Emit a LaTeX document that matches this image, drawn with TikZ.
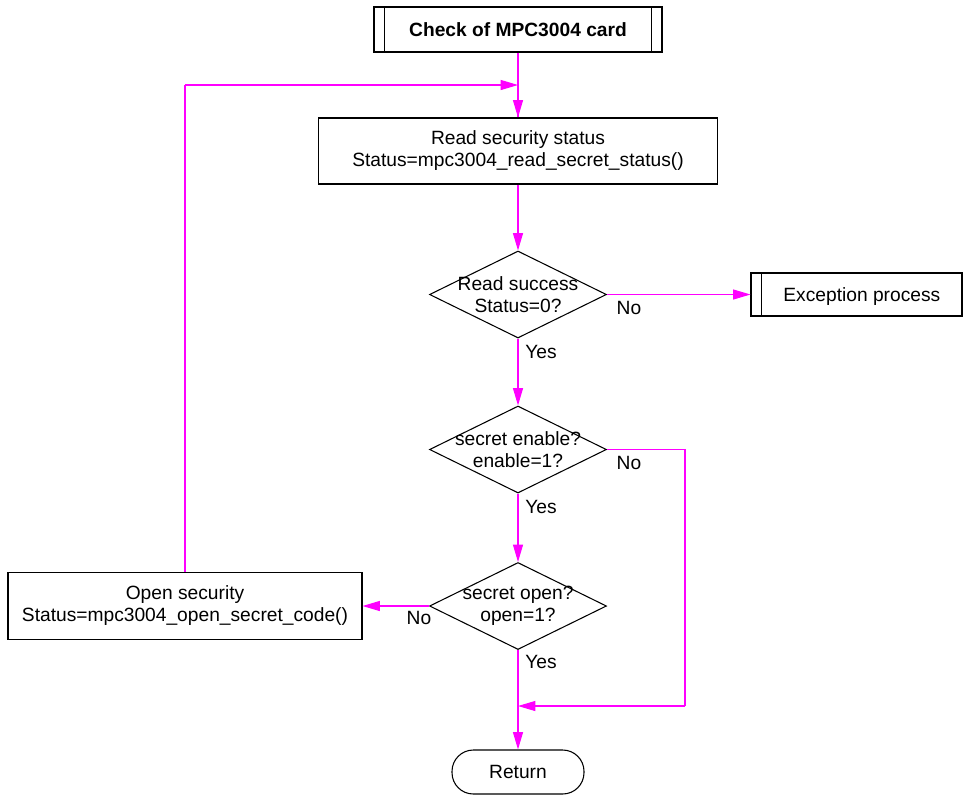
\documentclass[tikz,border=0pt]{standalone}
\usepackage{fontspec}
\setmainfont{Liberation Sans}
\usetikzlibrary{shapes.geometric,arrows.meta}
\definecolor{flow}{HTML}{FF00FF}
\begin{document}
\begin{tikzpicture}[x=0.75pt,y=-0.75pt,
  every node/.style={font=\fontsize{14.4}{16.5}\selectfont},
  box/.style={draw=black,line width=0.8pt,rectangle,inner sep=0pt,align=center},
  subbox/.style={box},
  dia/.style={draw=black,line width=0.8pt,diamond,inner sep=0pt,
    minimum width=132.75pt,minimum height=65.25pt},
  term/.style={draw=black,line width=0.8pt,rectangle,rounded corners=16pt,
    inner sep=0pt,minimum width=99pt,minimum height=33pt},
  tag/.style={inner sep=0pt},
  link/.style={draw=flow,line width=0.8pt},
  arr/.style={link,-{Triangle[length=13pt,width=7.5pt]}}
]
\useasboundingbox (0,0) rectangle (963,794);

% start subroutine
\node[subbox,minimum width=216pt,minimum height=33.75pt,font=\bfseries\fontsize{14.4}{16.5}\selectfont] (start) at (518,29.5) {Check of MPC3004 card};
\draw[line width=0.8pt] ([xshift=8pt]start.north west) -- ([xshift=8pt]start.south west);
\draw[line width=0.8pt] ([xshift=-8pt]start.north east) -- ([xshift=-8pt]start.south east);

% read status
\node[box,minimum width=299.25pt,minimum height=49.5pt] (read) at (518,151)
  {Read security status\\Status=mpc3004\_read\_secret\_status()};

% decisions
\node[dia,label={[align=center,tag]center:Read success\\Status=0?}] (d1) at (518,294.5) {};
\node[dia,label={[align=center,tag]center:secret enable?\\enable=1?}] (d2) at (518,449.5) {};
\node[dia,label={[align=center,tag]center:secret open?\\open=1?}] (d3) at (518,606) {};

% exception subroutine
\node[subbox,minimum width=158.25pt,minimum height=32.25pt,text depth=0pt] (exc) at (856.5,294.5) {\hspace{8pt}Exception process};
\draw[line width=0.8pt] ([xshift=8pt]exc.north west) -- ([xshift=8pt]exc.south west);

% open security
\node[box,minimum width=265.5pt,minimum height=50.25pt] (open) at (185,606)
  {Open security\\Status=mpc3004\_open\_secret\_code()};

% return
\node[term] (ret) at (518,772) {Return};

% helper points
\coordinate (loop) at (518,85);
\coordinate (loopc) at (185,85);
\coordinate (merge) at (518,706);
\coordinate (side) at (685,706);
\coordinate (sidetop) at (685,449.5);

% connectors
\draw[link] (start.south) -- (read.north);
\draw[arr] (loop) -- (read.north);
\draw[arr] (read.south) -- (d1.north);
\draw[arr] (d1.east) -- (exc.west);
\draw[arr] (d1.south) -- (d2.north);
\draw[arr] (d2.south) -- (d3.north);
\draw[arr] (d3.west) -- (open.east);
\draw[link] (open.north -| loopc) -- (loopc);
\draw[arr] (loopc) -- (loop);
\draw[link] (d2.east) -- (sidetop) -- (side);
\draw[arr] (side) -- (merge);
\draw[link] (d3.south) -- (merge);
\draw[arr] (merge) -- (ret.north);

% branch labels
\node[tag] (n1) at (629,308) {No};
\node[tag] (y1) at (541,352) {Yes};
\node[tag] (n2) at (629,463) {No};
\node[tag] (y2) at (541,507) {Yes};
\node[tag] (n3) at (419,618) {No};
\node[tag] (y3) at (541,662) {Yes};
\end{tikzpicture}
\end{document}
